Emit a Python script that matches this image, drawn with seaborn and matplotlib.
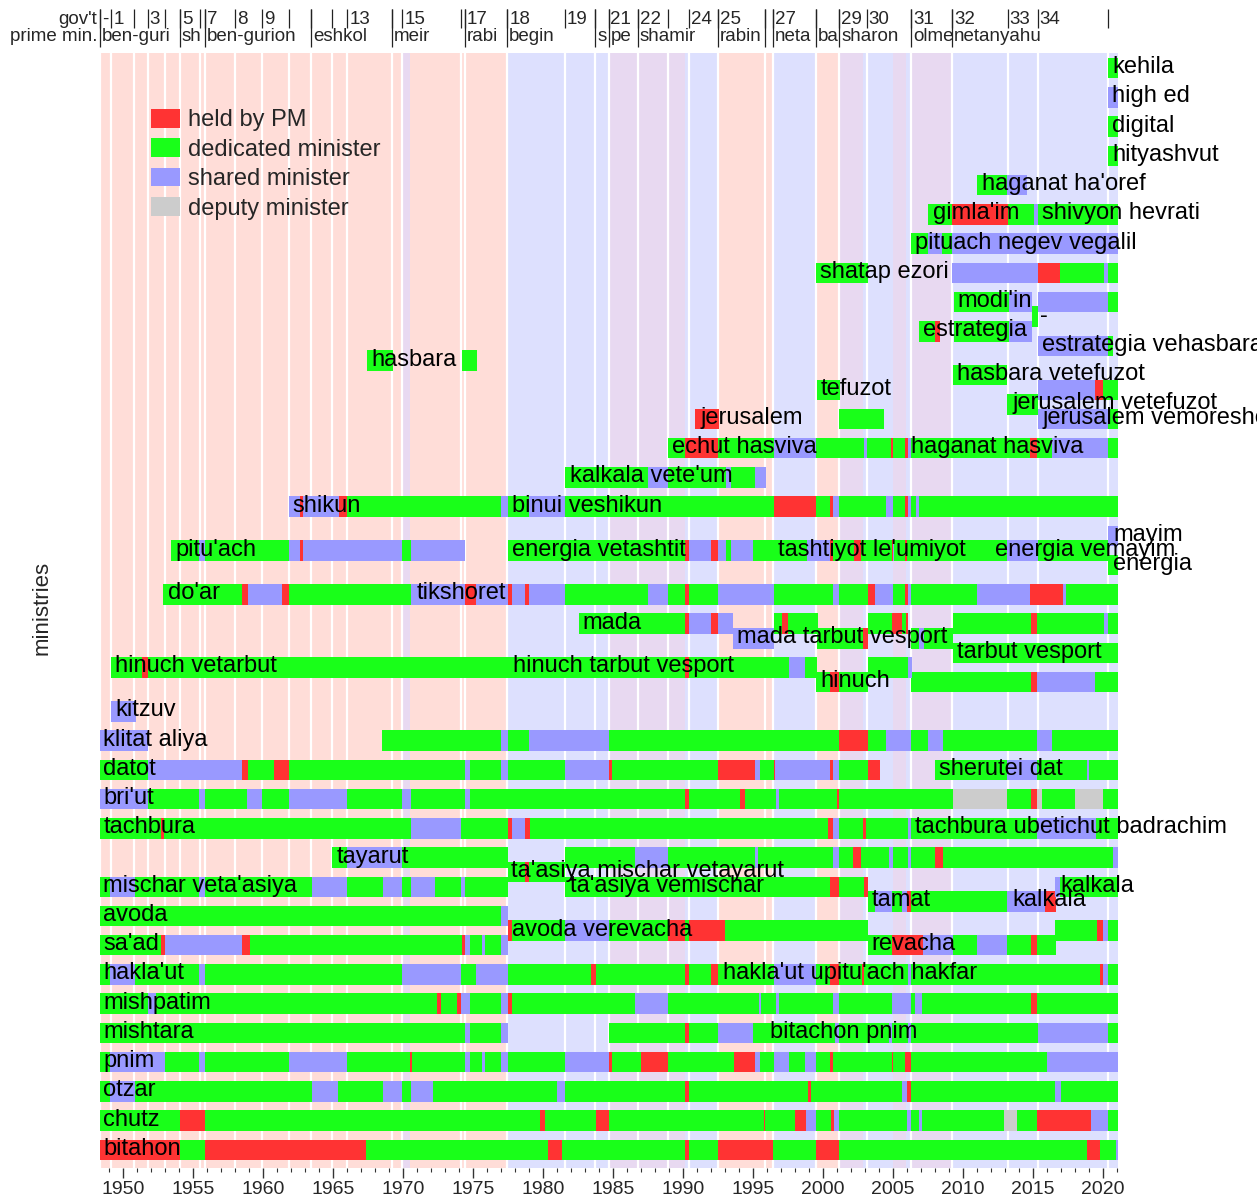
import matplotlib
matplotlib.use("Agg")
import matplotlib.pyplot as plt
from matplotlib.patches import Patch
import seaborn as sns
import pandas as pd

# ---------------- government / prime-minister timeline ----------------
gov_start = [1948.37, 1949.19, 1950.83, 1951.77, 1952.98, 1954.07, 1955.49, 1955.84, 1958.02, 1959.96,
             1961.84, 1963.48, 1964.97, 1966.03, 1969.21, 1969.96, 1974.19, 1974.42, 1977.47, 1981.59,
             1983.77, 1984.70, 1986.80, 1988.97, 1990.44, 1992.53, 1995.89, 1996.46, 1999.51, 2001.18,
             2003.16, 2006.34, 2009.25, 2013.21, 2015.37, 2020.38]
gov_label = ['-', '1', '', '3', '', '5', '', '7', '8', '9', '', '', '', '13', '', '15', '', '17', '18', '19',
             '', '21', '22', '', '24', '25', '', '27', '', '29', '30', '31', '32', '33', '34', '']
pm_start = [1948.37, 1954.07, 1955.84, 1963.48, 1969.21, 1974.42, 1977.47, 1983.77, 1984.70, 1986.80,
            1992.53, 1995.89, 1996.46, 1999.51, 2001.18, 2006.34, 2009.25]
pm_label = ['ben-guri', 'sh', 'ben-gurion', 'eshkol', 'meir', 'rabi', 'begin', 's', 'pe', 'shamir',
            'rabin', '', 'neta', 'ba', 'sharon', 'olme', 'netanyahu']

# coalition background bands
band_start = [1948.37, 1969.96, 1970.55, 1977.47, 1984.70, 1990.20, 1992.53, 1996.46, 1999.51, 2001.18,
              2002.85, 2005.00, 2005.94, 2006.34, 2009.25]
band_end = band_start[1:] + [2021.10]
band_kind = ['labor', 'unity', 'labor', 'likud', 'unity', 'likud', 'labor', 'likud', 'labor', 'unity',
             'likud', 'unity', 'likud', 'unity', 'likud']

# ---------------- ministries: (start, end, status) ----------------
# P = held by PM, D = dedicated minister, S = shared minister, V = deputy minister
bitahon = [(1948.36, 1954.07, 'P'), (1954.07, 1955.85, 'D'), (1955.85, 1967.39, 'P'), (1967.39, 1980.41, 'D'),
           (1980.41, 1981.37, 'P'), (1981.37, 1990.2, 'D'), (1990.2, 1990.42, 'P'), (1990.42, 1992.52, 'D'),
           (1992.52, 1996.46, 'P'), (1996.46, 1999.54, 'D'), (1999.54, 2001.17, 'P'), (2001.17, 2018.87, 'D'),
           (2018.87, 2019.85, 'P'), (2019.85, 2020.98, 'D'), (2020.98, 2021.1, 'S')]
chutz = [(1948.36, 1954.07, 'D'), (1954.07, 1955.85, 'P'), (1955.85, 1979.81, 'D'), (1979.81, 1980.19, 'P'),
         (1980.19, 1983.78, 'D'), (1983.78, 1984.7, 'P'), (1984.7, 1995.81, 'D'), (1995.81, 1995.91, 'P'),
         (1995.91, 1998.04, 'D'), (1998.04, 1998.8, 'P'), (1998.8, 1999.54, 'S'), (1999.54, 2000.59, 'D'),
         (2000.59, 2000.8, 'P'), (2000.8, 2001.17, 'S'), (2001.17, 2006.06, 'D'), (2006.06, 2006.33, 'S'),
         (2006.33, 2006.9, 'D'), (2006.9, 2007.1, 'S'), (2007.1, 2012.95, 'D'), (2012.95, 2013.88, 'V'),
         (2013.88, 2015.32, 'D'), (2015.32, 2019.14, 'P'), (2019.14, 2020.4, 'S'), (2020.4, 2021.1, 'D')]
otzar = [(1948.36, 1949.1, 'D'), (1949.1, 1950.87, 'S'), (1950.87, 1963.51, 'D'), (1963.51, 1965.4, 'S'),
         (1965.4, 1968.6, 'D'), (1968.6, 1969.94, 'S'), (1969.94, 1970.62, 'D'), (1970.62, 1972.15, 'S'),
         (1972.15, 1981.04, 'D'), (1981.04, 1981.56, 'S'), (1981.56, 1990.2, 'D'), (1990.2, 1990.42, 'P'),
         (1990.42, 1998.96, 'D'), (1998.96, 1999.15, 'P'), (1999.15, 2005.64, 'D'), (2005.64, 2006.04, 'S'),
         (2006.04, 2006.33, 'P'), (2006.33, 2016.58, 'D'), (2016.58, 2017.06, 'S'), (2017.06, 2021.1, 'D')]
pnim = [(1948.36, 1949.1, 'D'), (1949.1, 1953.0, 'S'), (1953.0, 1955.47, 'D'), (1955.47, 1955.85, 'S'),
        (1955.85, 1961.87, 'D'), (1961.87, 1966.03, 'S'), (1966.03, 1970.51, 'D'), (1970.51, 1970.65, 'P'),
        (1970.65, 1974.42, 'D'), (1974.42, 1974.8, 'S'), (1974.8, 1975.63, 'D'), (1975.63, 1975.85, 'S'),
        (1975.85, 1977.05, 'D'), (1977.05, 1977.49, 'S'), (1977.49, 1981.56, 'D'), (1981.56, 1984.7, 'S'),
        (1984.7, 1984.98, 'P'), (1984.98, 1987.03, 'D'), (1987.03, 1988.95, 'P'), (1988.95, 1993.69, 'D'),
        (1993.69, 1995.18, 'P'), (1995.18, 1995.54, 'S'), (1995.54, 1996.55, 'D'), (1996.55, 1997.63, 'S'),
        (1997.63, 1998.72, 'D'), (1998.72, 1999.54, 'S'), (1999.54, 2000.55, 'D'), (2000.55, 2000.76, 'P'),
        (2000.76, 2004.93, 'D'), (2004.93, 2005.04, 'P'), (2005.04, 2005.88, 'D'), (2005.88, 2006.34, 'P'),
        (2006.34, 2016.01, 'D'), (2016.01, 2021.1, 'S')]
mishtara = [(1948.36, 1974.42, 'D'), (1974.42, 1974.8, 'S'), (1974.8, 1977.05, 'D'), (1977.05, 1977.49, 'S'),
            (1984.7, 1990.2, 'D'), (1990.2, 1990.42, 'P'), (1990.42, 1992.52, 'D'), (1992.52, 1994.99, 'S'),
            (1994.99, 2000.9, 'D'), (2000.9, 2001.17, 'S'), (2001.17, 2004.71, 'D'), (2004.71, 2004.98, 'S'),
            (2004.98, 2006.07, 'D'), (2006.07, 2006.34, 'S'), (2006.34, 2015.4, 'D'), (2015.4, 2020.36, 'S'),
            (2020.36, 2021.1, 'D')]
mishpatim = [(1948.36, 1951.83, 'D'), (1951.83, 1952.38, 'S'), (1952.38, 1972.43, 'D'), (1972.43, 1972.7, 'P'),
             (1972.7, 1973.85, 'D'), (1973.85, 1974.18, 'P'), (1974.18, 1974.8, 'S'), (1974.8, 1977.05, 'D'),
             (1977.05, 1977.49, 'S'), (1977.49, 1977.81, 'P'), (1977.81, 1986.57, 'D'), (1986.57, 1988.95, 'S'),
             (1988.95, 1995.46, 'D'), (1995.46, 1995.56, 'S'), (1995.56, 1996.68, 'D'), (1996.68, 1996.9, 'S'),
             (1996.9, 2000.76, 'D'), (2000.76, 2001.17, 'S'), (2001.17, 2004.98, 'D'), (2004.98, 2006.34, 'S'),
             (2006.34, 2006.62, 'D'), (2006.62, 2007.08, 'S'), (2007.08, 2014.92, 'D'), (2014.92, 2015.33, 'P'),
             (2015.33, 2021.1, 'D')]
haklaut = [(1948.36, 1949.1, 'D'), (1949.1, 1950.87, 'S'), (1950.87, 1955.47, 'D'), (1955.47, 1955.85, 'S'),
           (1955.85, 1969.96, 'D'), (1969.96, 1974.18, 'S'), (1974.18, 1975.22, 'D'), (1975.22, 1977.49, 'S'),
           (1977.49, 1983.42, 'D'), (1983.42, 1983.78, 'P'), (1983.78, 1990.2, 'D'), (1990.2, 1990.42, 'P'),
           (1990.42, 1992.0, 'D'), (1992.0, 1992.52, 'P'), (1992.52, 1996.55, 'D'), (1996.55, 1999.54, 'S'),
           (1999.54, 2000.55, 'D'), (2000.55, 2001.17, 'P'), (2001.17, 2002.8, 'D'), (2002.8, 2002.94, 'P'),
           (2002.94, 2006.07, 'D'), (2006.07, 2006.34, 'S'), (2006.34, 2019.82, 'D'), (2019.82, 2020.04, 'P'),
           (2020.04, 2020.36, 'S'), (2020.36, 2021.1, 'D')]
saad = [(1948.36, 1952.7, 'D'), (1952.7, 1953.0, 'P'), (1953.0, 1958.5, 'S'), (1958.5, 1959.08, 'P'),
        (1959.08, 1974.26, 'D'), (1974.26, 1974.42, 'P'), (1974.42, 1974.8, 'S'), (1974.8, 1975.63, 'D'),
        (1975.63, 1975.85, 'S'), (1975.85, 1977.05, 'D'), (1977.05, 1977.49, 'S'),
        (2003.21, 2004.93, 'D'), (2004.93, 2007.16, 'P'), (2007.16, 2009.34, 'S'), (2009.34, 2011.05, 'D'),
        (2011.05, 2013.15, 'S'), (2013.15, 2014.92, 'D'), (2014.92, 2015.33, 'P'), (2015.33, 2016.69, 'D')]
avoda_verevacha = [(1977.49, 1977.81, 'P'), (1977.81, 1981.56, 'D'), (1981.56, 1984.7, 'S'), (1984.7, 1988.95, 'D'),
                   (1988.95, 1990.2, 'P'), (1990.2, 1990.42, 'D'), (1990.42, 1993.0, 'P'), (1993.0, 2003.21, 'D'),
                   (2016.63, 2019.63, 'D'), (2019.63, 2020.04, 'P'), (2020.04, 2020.36, 'S'), (2020.36, 2021.1, 'D')]
avoda = [(1948.36, 1977.05, 'D'), (1977.05, 1977.49, 'S')]
tamat = [(2003.21, 2003.76, 'D'), (2003.76, 2004.98, 'S'), (2004.98, 2005.66, 'D'), (2005.66, 2006.02, 'S'),
         (2006.02, 2006.34, 'P'), (2006.34, 2013.2, 'D'), (2013.2, 2015.87, 'S'), (2015.87, 2016.69, 'P')]
mischar = [(1948.36, 1949.1, 'D'), (1949.1, 1950.87, 'S'), (1950.87, 1955.47, 'D'), (1955.47, 1955.85, 'S'),
           (1955.85, 1963.51, 'D'), (1963.51, 1966.03, 'S'), (1966.03, 1968.6, 'D'), (1968.6, 1969.94, 'S'),
           (1969.94, 1970.62, 'D'), (1970.62, 1972.34, 'S'), (1972.34, 1974.18, 'D'), (1974.18, 1974.42, 'S'),
           (1974.42, 1977.49, 'D'),
           (1981.56, 2000.49, 'D'), (2000.49, 2001.17, 'P'), (2001.17, 2002.94, 'D'), (2002.94, 2003.21, 'P'),
           (2016.63, 2016.96, 'S'), (2016.96, 2021.1, 'D')]
taasiya_mischar_vetayarut = [(1977.49, 1978.77, 'D'), (1978.77, 1979.04, 'P'), (1979.04, 1981.56, 'D')]
tayarut = [(1964.96, 1966.05, 'D'), (1966.05, 1969.94, 'S'), (1969.94, 1977.49, 'D'), (1981.56, 1986.57, 'D'),
           (1986.57, 1988.95, 'S'), (1988.95, 1995.18, 'D'), (1995.18, 1995.4, 'S'), (1995.4, 2000.76, 'D'),
           (2000.76, 2001.17, 'S'), (2001.17, 2002.18, 'D'), (2002.18, 2002.72, 'P'), (2002.72, 2004.71, 'D'),
           (2004.71, 2005.04, 'S'), (2005.04, 2006.07, 'D'), (2006.07, 2006.34, 'S'), (2006.34, 2008.03, 'D'),
           (2008.03, 2008.58, 'P'), (2008.58, 2020.77, 'D'), (2020.77, 2021.1, 'S')]
tachbura = [(1948.36, 1952.7, 'D'), (1952.7, 1952.92, 'P'), (1952.92, 1970.62, 'D'), (1970.62, 1974.18, 'S'),
            (1974.18, 1977.49, 'D'), (1977.49, 1977.81, 'P'), (1977.81, 1978.77, 'S'), (1978.77, 1979.1, 'P'),
            (1979.1, 2000.36, 'D'), (2000.36, 2000.76, 'P'), (2000.76, 2001.17, 'S'), (2001.17, 2002.86, 'D'),
            (2002.86, 2003.07, 'P'), (2003.07, 2006.07, 'D'), (2006.07, 2006.34, 'S'), (2006.34, 2015.33, 'D'),
            (2015.33, 2019.54, 'S'), (2019.54, 2021.1, 'D')]
briut = [(1948.36, 1951.83, 'S'), (1951.83, 1955.47, 'D'), (1955.47, 1955.85, 'S'), (1955.85, 1958.89, 'D'),
         (1958.89, 1959.95, 'S'), (1959.95, 1961.87, 'D'), (1961.87, 1966.03, 'S'), (1966.03, 1969.96, 'D'),
         (1969.96, 1970.62, 'S'), (1970.62, 1974.42, 'D'), (1974.42, 1974.8, 'S'), (1974.8, 1990.2, 'D'),
         (1990.2, 1990.42, 'P'), (1990.42, 1994.1, 'D'), (1994.1, 1994.42, 'P'), (1994.42, 1996.68, 'D'),
         (1996.68, 1996.9, 'S'), (1996.9, 2001.04, 'D'), (2001.04, 2001.17, 'P'), (2001.17, 2009.28, 'D'),
         (2009.28, 2013.15, 'V'), (2013.15, 2014.92, 'D'), (2014.92, 2015.33, 'P'), (2015.33, 2015.68, 'V'),
         (2015.68, 2018.05, 'D'), (2018.05, 2020.0, 'V'), (2020.0, 2021.1, 'D')]
datot = [(1948.36, 1951.83, 'D'), (1951.83, 1958.5, 'S'), (1958.5, 1958.94, 'P'), (1958.94, 1960.8, 'D'),
         (1960.8, 1961.87, 'P'), (1961.87, 1974.42, 'D'), (1974.42, 1974.8, 'S'), (1974.8, 1977.05, 'D'),
         (1977.05, 1977.49, 'S'), (1977.49, 1981.56, 'D'), (1981.56, 1984.7, 'S'), (1984.7, 1984.98, 'P'),
         (1984.98, 1992.52, 'D'), (1992.52, 1995.18, 'P'), (1995.18, 1995.54, 'S'), (1995.54, 1996.49, 'D'),
         (1996.49, 1996.6, 'P'), (1996.6, 2000.55, 'S'), (2000.55, 2000.76, 'P'), (2000.76, 2001.17, 'S'),
         (2001.17, 2003.21, 'D'), (2003.21, 2004.09, 'P'),
         (2008.03, 2013.2, 'D'), (2013.2, 2015.33, 'S'), (2015.33, 2018.86, 'D'), (2018.86, 2019.05, 'S'),
         (2019.05, 2021.1, 'D')]
klitat_aliya = [(1948.36, 1951.83, 'S'), (1968.51, 1977.05, 'D'), (1977.05, 1977.49, 'S'), (1977.49, 1978.99, 'D'),
                (1978.99, 1984.7, 'S'), (1984.7, 2001.17, 'D'), (2001.17, 2003.21, 'P'), (2003.21, 2004.52, 'D'),
                (2004.52, 2006.34, 'S'), (2006.34, 2007.51, 'D'), (2007.51, 2008.58, 'S'), (2008.58, 2015.33, 'D'),
                (2015.33, 2016.42, 'S'), (2016.42, 2021.1, 'D')]
kitzuv = [(1949.18, 1950.93, 'S')]
hinuch = [(1999.54, 2000.49, 'D'), (2000.49, 2001.17, 'P'), (2001.17, 2003.21, 'D'), (2006.34, 2014.92, 'D'),
          (2014.92, 2015.33, 'P'), (2015.33, 2019.49, 'S'), (2019.49, 2021.1, 'D')]
hinuch_vetarbut = [(1949.18, 1951.36, 'D'), (1951.36, 1951.83, 'P'), (1951.83, 1990.2, 'D'), (1990.2, 1990.42, 'P'),
                   (1990.42, 1997.63, 'D'), (1997.63, 1998.72, 'S'), (1998.72, 1999.59, 'D'),
                   (2003.21, 2006.07, 'D'), (2006.07, 2006.4, 'S')]
tarbut_vesport = [(2009.28, 2021.1, 'D')]
mada_tarbut_vesport = [(1993.6, 1996.49, 'S'), (1999.59, 2002.89, 'D'), (2002.89, 2003.21, 'P'),
                       (2006.34, 2006.89, 'D'), (2006.89, 2007.24, 'S'), (2007.24, 2009.28, 'D')]
mada = [(1982.6, 1990.2, 'D'), (1990.2, 1990.42, 'P'), (1990.42, 1992.05, 'S'), (1992.05, 1992.52, 'P'),
        (1992.52, 1993.63, 'S'), (1996.49, 1997.09, 'D'), (1997.09, 1997.5, 'P'), (1997.5, 1999.68, 'D'),
        (2003.21, 2004.98, 'D'), (2004.98, 2005.66, 'P'), (2005.66, 2005.93, 'D'), (2005.93, 2006.07, 'P'),
        (2009.28, 2014.92, 'D'), (2014.92, 2015.33, 'P'), (2015.33, 2020.09, 'D'), (2020.09, 2020.42, 'S'),
        (2020.42, 2021.1, 'D')]
doar = [(1952.87, 1958.5, 'D'), (1958.5, 1958.94, 'P'), (1958.94, 1961.4, 'S'), (1961.4, 1961.87, 'P'),
        (1961.87, 1970.62, 'D'), (1970.62, 1974.42, 'S'), (1974.42, 1975.22, 'P'), (1975.22, 1977.49, 'S'),
        (1977.49, 1977.81, 'P'), (1977.81, 1978.77, 'S'), (1978.77, 1979.04, 'P'), (1979.04, 1981.56, 'S'),
        (1981.56, 1987.52, 'D'), (1987.52, 1988.95, 'S'), (1988.95, 1990.2, 'D'), (1990.2, 1990.42, 'P'),
        (1990.42, 1992.52, 'D'), (1992.52, 1996.49, 'S'), (1996.49, 2000.76, 'D'), (2000.76, 2001.17, 'S'),
        (2001.17, 2003.21, 'D'), (2003.21, 2003.76, 'P'), (2003.76, 2005.04, 'S'), (2005.04, 2005.88, 'D'),
        (2005.88, 2006.07, 'P'), (2006.07, 2006.34, 'S'), (2006.34, 2011.05, 'D'), (2011.05, 2014.84, 'S'),
        (2014.84, 2017.15, 'P'), (2017.15, 2017.37, 'S'), (2017.37, 2021.1, 'D')]
energia_vemayim = [(1953.47, 1955.47, 'D'), (1955.47, 1955.85, 'S'), (1955.85, 1961.87, 'D'), (1961.87, 1962.63, 'S'),
                   (1962.63, 1962.85, 'P'), (1962.85, 1969.96, 'S'), (1969.96, 1970.62, 'D'), (1970.62, 1974.48, 'S'),
                   (1977.49, 1990.2, 'D'), (1990.2, 1990.42, 'P'), (1990.42, 1992.05, 'S'), (1992.05, 1992.52, 'P'),
                   (1992.52, 1993.06, 'S'), (1993.06, 1993.42, 'D'), (1993.42, 1994.99, 'S'), (1994.99, 1998.86, 'D'),
                   (1998.86, 2000.55, 'S'), (2000.55, 2000.76, 'P'), (2000.76, 2002.26, 'D'), (2002.26, 2002.72, 'P'),
                   (2002.72, 2004.93, 'D'), (2004.93, 2005.04, 'P'), (2005.04, 2005.12, 'S'), (2005.12, 2005.88, 'D'),
                   (2005.88, 2006.02, 'P'), (2006.02, 2013.2, 'D'), (2013.2, 2015.4, 'S'), (2015.4, 2020.36, 'D')]
mayim = [(2020.36, 2021.1, 'S')]
energia = [(2020.36, 2021.1, 'D')]
shikun = [(1961.87, 1962.69, 'S'), (1962.69, 1962.85, 'P'), (1962.85, 1965.42, 'S'), (1965.42, 1966.03, 'P'),
          (1966.03, 1977.05, 'D'), (1977.05, 1977.49, 'S'), (1977.49, 1978.99, 'D'), (1978.99, 1981.56, 'S'),
          (1981.56, 1996.49, 'D'), (1996.49, 1999.54, 'P'), (1999.54, 2000.55, 'D'), (2000.55, 2000.76, 'P'),
          (2000.76, 2001.17, 'S'), (2001.17, 2004.52, 'D'), (2004.52, 2005.04, 'S'), (2005.04, 2005.88, 'D'),
          (2005.88, 2006.07, 'P'), (2006.07, 2006.34, 'S'), (2006.34, 2006.67, 'D'), (2006.67, 2006.89, 'S'),
          (2006.89, 2021.1, 'D')]
kalkala_vetium = [(1981.59, 1987.52, 'D'), (1987.52, 1988.95, 'S'), (1988.95, 1993.06, 'D'), (1993.06, 1993.42, 'S'),
                  (1993.42, 1995.18, 'D'), (1995.18, 1995.92, 'S')]
sviva = [(1988.95, 1990.2, 'D'), (1990.2, 1992.52, 'P'), (1992.52, 1996.49, 'D'), (1996.49, 1999.54, 'S'),
         (1999.54, 2002.94, 'D'), (2002.94, 2003.16, 'S'), (2003.16, 2004.9, 'D'), (2004.9, 2005.04, 'P'),
         (2005.04, 2005.88, 'D'), (2005.88, 2006.07, 'P'), (2006.07, 2006.34, 'S'), (2006.34, 2014.84, 'D'),
         (2014.84, 2015.33, 'P'), (2015.33, 2016.42, 'D'), (2016.42, 2020.36, 'S'), (2020.36, 2021.1, 'D')]
jerusalem = [(1990.88, 1992.6, 'P'), (2001.17, 2004.38, 'D'), (2015.4, 2020.36, 'S'), (2020.36, 2021.1, 'D')]
jerusalem_vetefuzot = [(2013.2, 2015.4, 'D')]
tefuzot = [(1999.59, 2001.23, 'D'), (2015.4, 2019.49, 'S'), (2019.49, 2020.04, 'P'), (2020.04, 2021.1, 'D')]
hasbara_vetefuzot = [(2009.28, 2013.2, 'D')]
hasbara = [(1967.42, 1969.33, 'D'), (1974.2, 1975.3, 'D')]
estrategia_vehasbara = [(2015.4, 2020.36, 'S'), (2020.36, 2020.77, 'D')]
estrategia = [(2006.85, 2008.04, 'D'), (2008.04, 2008.35, 'P'), (2009.35, 2013.28, 'D'), (2013.28, 2014.95, 'S')]
modiin_interim = [(2014.95, 2015.42, 'D')]
modiin = [(2009.35, 2013.28, 'D'), (2013.28, 2014.95, 'S'), (2015.38, 2020.36, 'S'), (2020.36, 2021.07, 'D')]
shatap_ezori = [(1999.53, 2003.27, 'D'), (2009.23, 2015.35, 'S'), (2015.35, 2016.97, 'P'), (2016.97, 2020.07, 'D'),
                (2020.07, 2020.36, 'S'), (2020.36, 2021.07, 'D')]
negev_galil = [(2006.32, 2007.56, 'D'), (2007.56, 2008.51, 'S'), (2008.51, 2009.23, 'D'), (2009.23, 2021.07, 'S')]
gimlaim = [(2007.56, 2009.23, 'D'), (2009.23, 2013.21, 'P'), (2013.21, 2015.07, 'D'), (2015.07, 2015.35, 'S'),
           (2015.35, 2021.07, 'D')]
haganat_haoref = [(2011.02, 2013.16, 'D'), (2013.16, 2014.59, 'S')]
hityashvut = [(2020.36, 2021.07, 'D')]
digital = [(2020.36, 2021.07, 'D')]
high_ed = [(2020.36, 2021.07, 'S')]
kehila = [(2020.36, 2021.07, 'D')]

# row (vertical slot) of each ministry line
rows = [(0, bitahon), (1, chutz), (2, otzar), (3, pnim), (4, mishtara), (5, mishpatim), (6, haklaut),
        (7, saad), (7.5, avoda_verevacha), (8, avoda), (8.5, tamat), (9, mischar),
        (9.5, taasiya_mischar_vetayarut), (10, tayarut), (11, tachbura), (12, briut), (13, datot),
        (14, klitat_aliya), (15, kitzuv), (16, hinuch), (16.5, hinuch_vetarbut), (17, tarbut_vesport),
        (17.5, mada_tarbut_vesport), (18, mada), (19, doar), (20, energia), (20.5, energia_vemayim),
        (21, mayim), (22, shikun), (23, kalkala_vetium), (24, sviva), (25, jerusalem),
        (25.5, jerusalem_vetefuzot), (26, tefuzot), (26.5, hasbara_vetefuzot), (27, hasbara),
        (27.5, estrategia_vehasbara), (28, estrategia), (28.5, modiin_interim), (29, modiin),
        (30, shatap_ezori), (31, negev_galil), (32, gimlaim), (33, haganat_haoref), (34, hityashvut),
        (35, digital), (36, high_ed), (37, kehila)]

# ministry name labels: (text, year, row)
labels = [("bitahon", 1948.62, 0), ("chutz", 1948.62, 1), ("otzar", 1948.62, 2), ("pnim", 1948.62, 3),
          ("mishtara", 1948.62, 4), ("bitachon pnim", 1996.27, 4), ("mishpatim", 1948.62, 5),
          ("hakla'ut", 1948.62, 6), ("hakla'ut upitu'ach hakfar", 1992.87, 6), ("sa'ad", 1948.62, 7),
          ("revacha", 2003.49, 7), ("avoda verevacha", 1977.81, 7.5), ("avoda", 1948.62, 8),
          ("tamat", 2003.49, 8.5), ("kalkala", 2013.56, 8.5), ("mischar veta'asiya", 1948.62, 9),
          ("ta'asiya vemischar", 1981.92, 9), ("kalkala", 2016.96, 9),
          ("ta'asiya mischar vetayarut", 1977.75, 9.5), ("tayarut", 1965.29, 10),
          ("tachbura", 1948.62, 11), ("tachbura ubetichut badrachim", 2006.62, 11), ("bri'ut", 1948.62, 12),
          ("datot", 1948.62, 13), ("sherutei dat", 2008.33, 13), ("klitat aliya", 1948.62, 14),
          ("kitzuv", 1949.45, 15), ("hinuch", 1999.81, 16), ("hinuch vetarbut", 1949.45, 16.5),
          ("hinuch tarbut vesport", 1977.87, 16.5), ("tarbut vesport", 2009.61, 17),
          ("mada tarbut vesport", 1993.9, 17.5), ("mada", 1982.87, 18), ("do'ar", 1953.2, 19),
          ("tikshoret", 1970.98, 19), ("energia", 2020.74, 20), ("pitu'ach", 1953.74, 20.5),
          ("energia vetashtit", 1977.81, 20.5), ("tashtiyot le'umiyot", 1996.82, 20.5),
          ("energia vemayim", 2012.33, 20.5), ("mayim", 2020.74, 21), ("shikun", 1962.14, 22),
          ("binui veshikun", 1977.81, 22), ("kalkala vete'um", 1981.92, 23), ("echut hasviva", 1989.27, 24),
          ("haganat hasviva", 2006.34, 24), ("jerusalem", 1991.24, 25), ("jerusalem vemoreshet", 2015.68, 25),
          ("jerusalem vetefuzot", 2013.56, 25.5), ("tefuzot", 1999.87, 26), ("hasbara vetefuzot", 2009.61, 26.5),
          ("hasbara", 1967.75, 27), ("estrategia vehasbara", 2015.68, 27.5), ("estrategia", 2007.14, 28),
          ("-", 2015.5, 28.5), ("modi'in", 2009.64, 29), ("shatap ezori", 1999.82, 30),
          ("pituach negev vegalil", 2006.61, 31), ("gimla'im", 2007.85, 32), ("shivyon hevrati", 2015.66, 32),
          ("haganat ha'oref", 2011.38, 33), ("hityashvut", 2020.67, 34), ("digital", 2020.67, 35),
          ("high ed", 2020.67, 36), ("kehila", 2020.67, 37)]

status_names = ["held by PM", "dedicated minister", "shared minister", "deputy minister"]
status_codes = ["P", "D", "S", "V"]

# ---------------- styling ----------------
status_colors = {"P": "#ff3333", "D": "#19ff19", "S": "#9999ff", "V": "#cccccc"}
band_colors = {"labor": "#ffddd8", "likud": "#dde0fe", "unity": "#e8d9f1"}

sns.set_theme(style="white")
plt.rcParams["font.family"] = ["Liberation Sans", "DejaVu Sans"]

records = [(y, s, e, c) for y, segs in rows for (s, e, c) in segs]
df = pd.DataFrame(records, columns=["row", "start", "end", "status"])
df["width"] = df["end"] - df["start"]
df["color"] = df["status"].map(status_colors)

fig = plt.figure(figsize=(12.57, 11.96), dpi=100)
ax = fig.add_axes([0.07955, 0.02341, 0.80986, 0.93227])
XMIN, XMAX = 1948.37, 2021.1
ax.set_xlim(XMIN, XMAX)
ax.set_ylim(-0.62, 37.52)

# background coalition bands and government boundaries
for s, e, k in zip(band_start, band_end, band_kind):
    ax.axvspan(s, e, color=band_colors[k], lw=0, zorder=0)
for g in gov_start:
    ax.axvline(g, color="white", lw=1.6, zorder=0.5)

# ministry bars
ax.barh(df["row"], df["width"], left=df["start"], height=0.7, color=df["color"], lw=0, zorder=2)

# labels
for txt, x, y in labels:
    ax.text(x, y - 0.17, txt, fontsize=17, va="baseline", ha="left", color="black", zorder=4)

# top annotation rows (government number, prime minister)
trans = ax.get_xaxis_transform()
gov_y, pm_y = 1.0262, 1.0110
ax.vlines(gov_start, 1.0224, 1.0395, transform=trans, colors="#222222", lw=0.9, clip_on=False)
ax.vlines(pm_start, 1.0050, 1.0395, transform=trans, colors="#222222", lw=0.9, clip_on=False)
for g, lab in zip(gov_start, gov_label):
    ax.text(g + 0.14, gov_y, lab, transform=trans, fontsize=13.5, va="baseline", ha="left", clip_on=False)
for p, lab in zip(pm_start, pm_label):
    ax.text(p + 0.14, pm_y, lab, transform=trans, fontsize=13.5, va="baseline", ha="left", clip_on=False)
ax.text(XMIN - 0.2, gov_y, "gov't", transform=trans, fontsize=13.5, va="baseline", ha="right", clip_on=False)
ax.text(XMIN - 0.2, pm_y, "prime min.", transform=trans, fontsize=13.5, va="baseline", ha="right", clip_on=False)

# axes
for sp in ax.spines.values():
    sp.set_visible(False)
ax.set_yticks([])
ax.set_xticks(list(range(1950, 2021, 5)))
ax.set_xticks(list(range(1949, 2022)), minor=True)
ax.tick_params(axis="x", which="major", direction="out", length=7, width=1, color="#333333",
               labelsize=14, pad=2.5, bottom=True)
ax.tick_params(axis="x", which="minor", direction="out", length=3, width=0.8, color="#333333", bottom=True)
ax.set_ylabel("ministries", fontsize=16, va="center")
ax.yaxis.set_label_coords(-58 / 1018, 0.5027)

# legend
handles = [Patch(facecolor=status_colors[c], edgecolor="none", label=n) for c, n in zip(status_codes, status_names)]
ax.legend(handles=handles, loc="upper left", bbox_to_anchor=(0.0501, 0.9500), frameon=False, fontsize=17,
          handlelength=1.23, handleheight=0.85, handletextpad=0.33, labelspacing=0.29,
          borderpad=0, borderaxespad=0)

fig.savefig("out.png", dpi=100)
